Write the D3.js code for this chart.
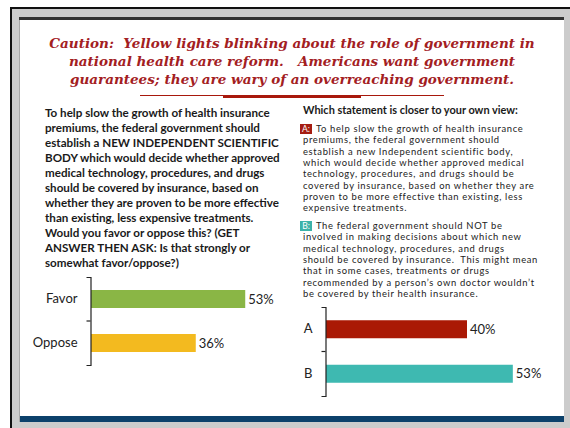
<!DOCTYPE html>
<html>
<head>
<meta charset="utf-8">
<script src="https://cdn.jsdelivr.net/npm/d3@7"></script>
<style>
  html, body { margin: 0; padding: 0; background: #ffffff; }
  svg { display: block; }
</style>
</head>
<body>
<svg id="chart" width="570" height="428"></svg>
<script>
// ---- Data ----
const titleLines = [
  "Caution:  Yellow lights blinking about the role of government in",
  "national health care reform.   Americans want government",
  "guarantees; they are wary of an overreaching government."
];

const questionLines = [
  "To help slow the growth of health insurance",
  "premiums, the federal government should",
  "establish a NEW INDEPENDENT SCIENTIFIC",
  "BODY which would decide whether approved",
  "medical technology, procedures, and drugs",
  "should be covered by insurance, based on",
  "whether they are proven to be more effective",
  "than existing, less expensive treatments.",
  "Would you favor or oppose this? (GET",
  "ANSWER THEN ASK: Is that strongly or",
  "somewhat favor/oppose?)"
];

const statementHeading = "Which statement is closer to your own view:";

const statementA = [
  "To help slow the growth of health insurance",
  "premiums, the federal government should",
  "establish a new Independent scientific body,",
  "which would decide whether approved medical",
  "technology, procedures, and drugs should be",
  "covered by insurance, based on whether they are",
  "proven to be more effective than existing, less",
  "expensive treatments."
];

const statementB = [
  "The federal government should NOT be",
  "involved in making decisions about which new",
  "medical technology, procedures, and drugs",
  "should be covered by insurance.  This might mean",
  "that in some cases, treatments or drugs",
  "recommended by a person\u2019s own doctor wouldn\u2019t",
  "be covered by their health insurance."
];

const favorCategories = ["Favor", "Oppose"];
const favorValues = [53, 36];
const favorColors = ["#8ab645", "#f3ba1f"];

const viewCategories = ["A", "B"];
const viewValues = [40, 53];
const viewColors = ["#aa1905", "#3eb9b1"];

// ---- Setup ----
const svg = d3.select("#chart");
const SANS = "Lato, 'Open Sans', sans-serif";
const SERIF = "'DejaVu Serif', serif";
const fmt = v => v + "%";

function measure(lines, family, weight, style, size, spacing) {
  const probe = svg.append("text")
    .attr("font-family", family).attr("font-weight", weight)
    .attr("font-style", style).attr("font-size", size)
    .attr("letter-spacing", spacing || 0)
    .attr("xml:space", "preserve").style("white-space", "pre");
  let max = 0, maxLen = 0;
  lines.forEach(l => {
    probe.text(l);
    const w = probe.node().getComputedTextLength();
    if (w > max) { max = w; maxLen = l.length; }
  });
  probe.remove();
  return { width: max, chars: maxLen };
}

// Size a block of lines so its widest line spans the given width.
function fitFont(lines, family, weight, style, width) {
  return 100 * width / measure(lines, family, weight, style, 100).width;
}

// Letter spacing that widens a block at a fixed size to the given width.
function fitSpacing(lines, family, weight, size, width) {
  const m = measure(lines, family, weight, "normal", size);
  return Math.max(0, (width - m.width) / m.chars);
}

// ---- Frame ----
svg.append("rect").attr("x", 10).attr("y", 7).attr("width", 560).attr("height", 421).attr("fill", "#111");
svg.append("rect").attr("x", 12).attr("y", 9).attr("width", 558).attr("height", 419).attr("fill", "#cccccc");
svg.append("rect").attr("x", 19).attr("y", 17).attr("width", 545).attr("height", 405).attr("fill", "#a8a8a8");
svg.append("rect").attr("x", 20).attr("y", 17).attr("width", 544).attr("height", 405).attr("fill", "#ffffff");
svg.append("rect").attr("x", 19).attr("y", 17).attr("width", 545).attr("height", 3).attr("fill", "#333333");
svg.append("rect").attr("x", 20).attr("y", 416).attr("width", 544).attr("height", 6).attr("fill", "#0c416b");

// ---- Title ----
const titleSize = fitFont(titleLines, SERIF, "bold", "italic", 486);
svg.append("g").selectAll("text").data(titleLines).join("text")
  .attr("x", 292).attr("y", (d, i) => 48 + i * 18)
  .attr("text-anchor", "middle")
  .attr("font-family", SERIF).attr("font-weight", "bold").attr("font-style", "italic")
  .attr("font-size", titleSize).attr("fill", "#a3201f")
  .attr("xml:space", "preserve")
  .style("white-space", "pre")
  .text(d => d);

// rule under the title
svg.append("line").attr("x1", 140).attr("x2", 444).attr("y1", 95.5).attr("y2", 95.5)
  .attr("stroke", "#a8180c").attr("stroke-width", 1);
svg.append("rect").attr("x", 223).attr("y", 95).attr("width", 138).attr("height", 3).attr("fill", "#a8180c");

// ---- Left question ----
const qSize = fitFont(questionLines, SANS, "bold", "normal", 235);
svg.append("g").selectAll("text").data(questionLines).join("text")
  .attr("x", 45).attr("y", (d, i) => 117 + i * 15)
  .attr("font-family", SANS).attr("font-weight", "bold")
  .attr("font-size", qSize).attr("fill", "#1a1a1a")
  .text(d => d);

// ---- Right statements ----
const hSize = fitFont([statementHeading], SANS, "bold", "normal", 215);
svg.append("text").attr("x", 303).attr("y", 114)
  .attr("font-family", SANS).attr("font-weight", "bold")
  .attr("font-size", hSize).attr("fill", "#1a1a1a")
  .text(statementHeading);

const sSize = 9.4;
const bodyLines = statementA.slice(1).concat(statementB.slice(1));
const sSpacing = fitSpacing(bodyLines, SANS, "normal", sSize, 235);

function statement(lines, y0, tag, color, boxY) {
  const g = svg.append("g");
  g.append("rect").attr("x", 300).attr("y", boxY).attr("width", 12).attr("height", 10).attr("fill", color);
  g.append("text").attr("x", 306).attr("y", boxY + 8.3).attr("text-anchor", "middle")
    .attr("font-family", SANS).attr("font-size", 8.6).attr("fill", "#ffffff").text(tag + ":");
  g.selectAll("text.line").data(lines).join("text").attr("class", "line")
    .attr("x", (d, i) => i === 0 ? 316 : 303)
    .attr("y", (d, i) => y0 + i * 11.35)
    .attr("font-family", SANS).attr("font-size", sSize).attr("fill", "#222")
    .attr("letter-spacing", sSpacing)
    .attr("xml:space", "preserve").style("white-space", "pre")
    .text(d => d);
}
statement(statementA, 132, "A", "#a51d12", 124);
statement(statementB, 229, "B", "#3cb2a9", 221);

// ---- Bar charts ----
function barChart(cats, vals, colors, axisX, top, bottom, pxPer100) {
  const pad = 1 - 18 / ((bottom - top) / cats.length);
  const y = d3.scaleBand().domain(cats).range([top, bottom])
    .paddingInner(pad).paddingOuter(pad / 2);
  const x = d3.scaleLinear().domain([0, 100]).range([axisX + 0.5, axisX + 0.5 + pxPer100]);
  const g = svg.append("g");

  g.selectAll("rect").data(cats).join("rect")
    .attr("x", x(0)).attr("y", d => y(d))
    .attr("width", (d, i) => x(vals[i]) - x(0)).attr("height", y.bandwidth())
    .attr("fill", (d, i) => colors[i]);

  g.selectAll("text.val").data(cats).join("text").attr("class", "val")
    .attr("x", (d, i) => x(vals[i]) + 3)
    .attr("y", d => y(d) + y.bandwidth() / 2)
    .attr("dy", "0.35em")
    .attr("font-family", SANS).attr("font-size", 13).attr("fill", "#222")
    .text((d, i) => fmt(vals[i]));

  const axis = g.append("g").attr("transform", `translate(${axisX},0)`)
    .call(d3.axisLeft(y).tickSize(0).tickSizeOuter(4).tickPadding(13));
  axis.select(".domain").attr("stroke", "#222").attr("stroke-width", 1.2);
  axis.selectAll(".tick text").attr("font-family", SANS).attr("font-size", 13).attr("fill", "#222");

  // ticks on the boundaries between categories
  const bounds = cats.slice(1).map(c => y(c) - y.step() * pad / 2);
  axis.selectAll("line.sep").data(bounds).join("line").attr("class", "sep")
    .attr("x1", -4).attr("x2", 0).attr("y1", d => d).attr("y2", d => d)
    .attr("stroke", "#222").attr("stroke-width", 1.2);
}

barChart(favorCategories, favorValues, favorColors, 90.5, 277, 365, 291);
barChart(viewCategories, viewValues, viewColors, 325.5, 307, 396, 352.5);
</script>
</body>
</html>
